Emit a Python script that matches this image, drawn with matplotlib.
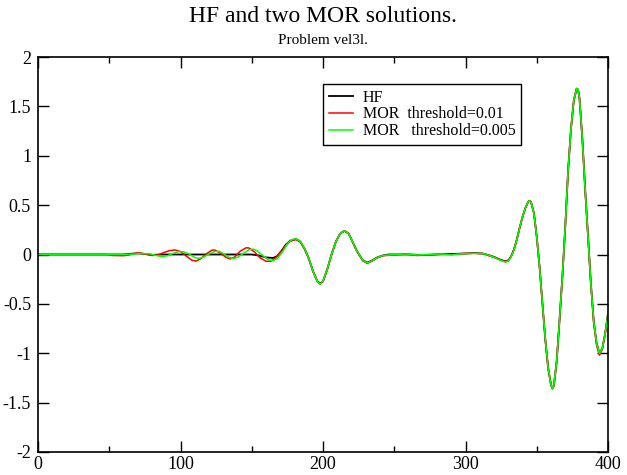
import matplotlib
matplotlib.use("Agg")
import matplotlib.pyplot as plt
from matplotlib.ticker import MultipleLocator, FormatStrFormatter

plt.rcParams['font.family'] = ['Liberation Serif', 'DejaVu Serif']
plt.rcParams['axes.unicode_minus'] = False

# ---------------- data ----------------
hf_x = [0, 50, 60, 66, 70, 75, 80, 86, 95, 150, 155, 160, 165, 168, 171, 174, 177,
        181, 184, 187, 190, 193, 196, 198, 200, 203, 206, 209, 212, 215, 218, 221,
        224, 228, 231, 234, 238, 242, 246, 260, 270, 280, 290, 300, 306, 312, 316,
        320, 324, 328, 330, 332, 334, 336, 338, 340, 342, 344, 345, 346, 348, 350,
        352, 354, 356, 358, 360, 361, 362, 364, 366, 368, 370, 372, 374, 376, 378,
        379, 380, 382, 384, 386, 388, 390, 392, 394, 396, 398, 400]
hf_y = [0, 0, 0, 0.008, 0.012, 0.005, -0.004, 0, 0, 0, -0.01, -0.03, -0.035, -0.015,
        0.04, 0.1, 0.14, 0.157, 0.13, 0.06, -0.04, -0.17, -0.27, -0.295, -0.27, -0.15,
        0.0, 0.13, 0.21, 0.24, 0.21, 0.12, 0.03, -0.06, -0.082, -0.065, -0.03, -0.01,
        0.0, 0.0, -0.005, 0.0, 0.005, 0.01, 0.015, 0.01, -0.005, -0.025, -0.05, -0.07,
        -0.06, -0.02, 0.05, 0.15, 0.27, 0.38, 0.47, 0.535, 0.545, 0.53, 0.42, 0.18,
        -0.13, -0.5, -0.86, -1.15, -1.32, -1.355, -1.33, -1.08, -0.66, -0.22, 0.28,
        0.85, 1.27, 1.56, 1.68, 1.67, 1.58, 1.17, 0.65, 0.18, -0.3, -0.68, -0.9, -1.0,
        -0.95, -0.8, -0.6]

mor1_x = [0, 48, 52, 60, 64, 68, 72, 76, 80, 84, 88, 92, 96, 100, 104, 108, 111, 114,
          118, 122, 124, 128, 132, 135, 138, 142, 146, 148, 152, 156, 160, 163, 166,
          170, 174, 177, 181, 184, 187, 190, 193, 196, 198, 200, 203, 206, 209, 212,
          215, 218, 221, 224, 228, 231, 234, 238, 242, 250, 258, 266, 274, 282, 290,
          298, 306, 312, 316, 320, 324, 328, 330, 332, 334, 336, 338, 340, 342, 344,
          345, 346, 348, 350, 352, 354, 356, 358, 360, 361, 362, 364, 366, 368, 370,
          372, 374, 376, 378, 379, 380, 382, 384, 386, 388, 390, 392, 394, 396, 398, 400]
mor1_y = [0, 0, -0.01, -0.012, -0.005, 0.012, 0.016, 0.002, -0.01, -0.005, 0.018,
          0.038, 0.046, 0.03, -0.015, -0.058, -0.066, -0.045, 0.005, 0.043, 0.046,
          0.015, -0.03, -0.045, -0.025, 0.035, 0.068, 0.066, 0.025, -0.035, -0.068,
          -0.07, -0.045, 0.02, 0.09, 0.135, 0.152, 0.13, 0.06, -0.04, -0.17, -0.27,
          -0.3, -0.275, -0.15, 0.0, 0.13, 0.21, 0.24, 0.215, 0.12, 0.025, -0.065,
          -0.09, -0.07, -0.035, -0.012, -0.005, 0.005, -0.01, -0.005, 0.005, 0.0,
          0.01, 0.012, 0.008, -0.01, -0.028, -0.052, -0.072, -0.062, -0.022, 0.05,
          0.15, 0.27, 0.38, 0.47, 0.535, 0.545, 0.53, 0.42, 0.18, -0.13, -0.5, -0.86,
          -1.15, -1.32, -1.36, -1.33, -1.08, -0.66, -0.22, 0.28, 0.85, 1.27, 1.56,
          1.68, 1.67, 1.58, 1.17, 0.65, 0.18, -0.3, -0.69, -0.92, -1.02, -0.96, -0.8,
          -0.6]

mor2_x = [0, 60, 66, 72, 78, 83, 87, 91, 95, 99, 102, 106, 110, 113, 116, 120, 124,
          127, 130, 134, 137, 140, 144, 148, 151, 154, 158, 162, 165, 168, 172, 175,
          178, 181, 184, 187, 190, 193, 196, 198, 200, 203, 206, 209, 212, 215, 218,
          221, 224, 228, 231, 234, 238, 242, 250, 258, 266, 274, 282, 290, 298, 306,
          312, 316, 320, 324, 328, 330, 332, 334, 336, 338, 340, 342, 344, 345, 346,
          348, 350, 352, 354, 356, 358, 360, 361, 362, 364, 366, 368, 370, 372, 374,
          376, 378, 379, 380, 382, 384, 386, 388, 390, 392, 394, 396, 398, 400]
mor2_y = [0, 0, 0.003, 0.01, 0.008, -0.01, -0.022, -0.012, 0.012, 0.03, 0.028, 0.005,
          -0.03, -0.04, -0.028, 0.005, 0.03, 0.033, 0.01, -0.028, -0.04, -0.03, 0.01,
          0.048, 0.055, 0.035, -0.015, -0.055, -0.062, -0.04, 0.035, 0.11, 0.15, 0.16,
          0.135, 0.065, -0.04, -0.17, -0.275, -0.3, -0.27, -0.15, 0.0, 0.13, 0.21,
          0.24, 0.21, 0.12, 0.03, -0.06, -0.085, -0.068, -0.032, -0.01, 0.0, 0.005,
          -0.005, 0.0, 0.005, -0.005, 0.008, 0.012, 0.01, -0.006, -0.028, -0.055,
          -0.078, -0.068, -0.025, 0.045, 0.15, 0.27, 0.38, 0.47, 0.535, 0.545, 0.53,
          0.42, 0.18, -0.13, -0.5, -0.86, -1.15, -1.32, -1.355, -1.33, -1.08, -0.66,
          -0.22, 0.28, 0.85, 1.27, 1.56, 1.68, 1.67, 1.58, 1.17, 0.65, 0.18, -0.3,
          -0.68, -0.9, -1.0, -0.95, -0.8, -0.6]

labels = ["HF", "MOR  threshold=0.01", "MOR   threshold=0.005"]
title = "HF and two MOR solutions."
subtitle = "Problem vel3l."

# ---------------- figure ----------------
W, H = 627, 475
fig = plt.figure(figsize=(W / 100, H / 100), dpi=100)
L, R, T, B = 38, 608, 57, 452
ax = fig.add_axes([L / W, 1 - B / H, (R - L) / W, (B - T) / H])

ax.plot(hf_x, hf_y, color='black', lw=1.3, label=labels[0])
ax.plot(mor1_x, mor1_y, color='#ff0000', lw=1.1, label=labels[1])
ax.plot(mor2_x, mor2_y, color='#00ff00', lw=1.1, label=labels[2])

ax.set_xlim(0, 400)
ax.set_ylim(-2, 2)
ax.xaxis.set_major_locator(MultipleLocator(100))
ax.xaxis.set_minor_locator(MultipleLocator(50))
ax.yaxis.set_major_locator(MultipleLocator(0.5))
ax.yaxis.set_major_formatter(FormatStrFormatter('%g'))
ax.tick_params(which='both', direction='in', top=True, right=True, width=1.0,
               labelsize=13, colors='black')
ax.tick_params(which='major', length=8)
ax.tick_params(which='minor', length=4.3)
ax.tick_params(axis='x', pad=3)
ax.tick_params(axis='y', pad=5)
for s in ax.spines.values():
    s.set_linewidth(1.2)

fig.text(0.5 * (L + R) / W, 1 - 16 / H, title, ha='center', va='center', fontsize=17)
fig.text(0.5 * (L + R) / W, 1 - 41 / H, subtitle, ha='center', va='center', fontsize=11)

leg = ax.legend(loc='upper left', bbox_to_anchor=(323 / W, 1 - 84 / H),
                bbox_transform=fig.transFigure, borderaxespad=0, fontsize=11.5,
                frameon=True, fancybox=False, handlelength=1.5, handletextpad=0.63,
                labelspacing=0.05, borderpad=0.35)
leg.get_frame().set_edgecolor('black')
leg.get_frame().set_linewidth(1.0)
leg.get_frame().set_alpha(1)

fig.savefig("out.png", dpi=100)
